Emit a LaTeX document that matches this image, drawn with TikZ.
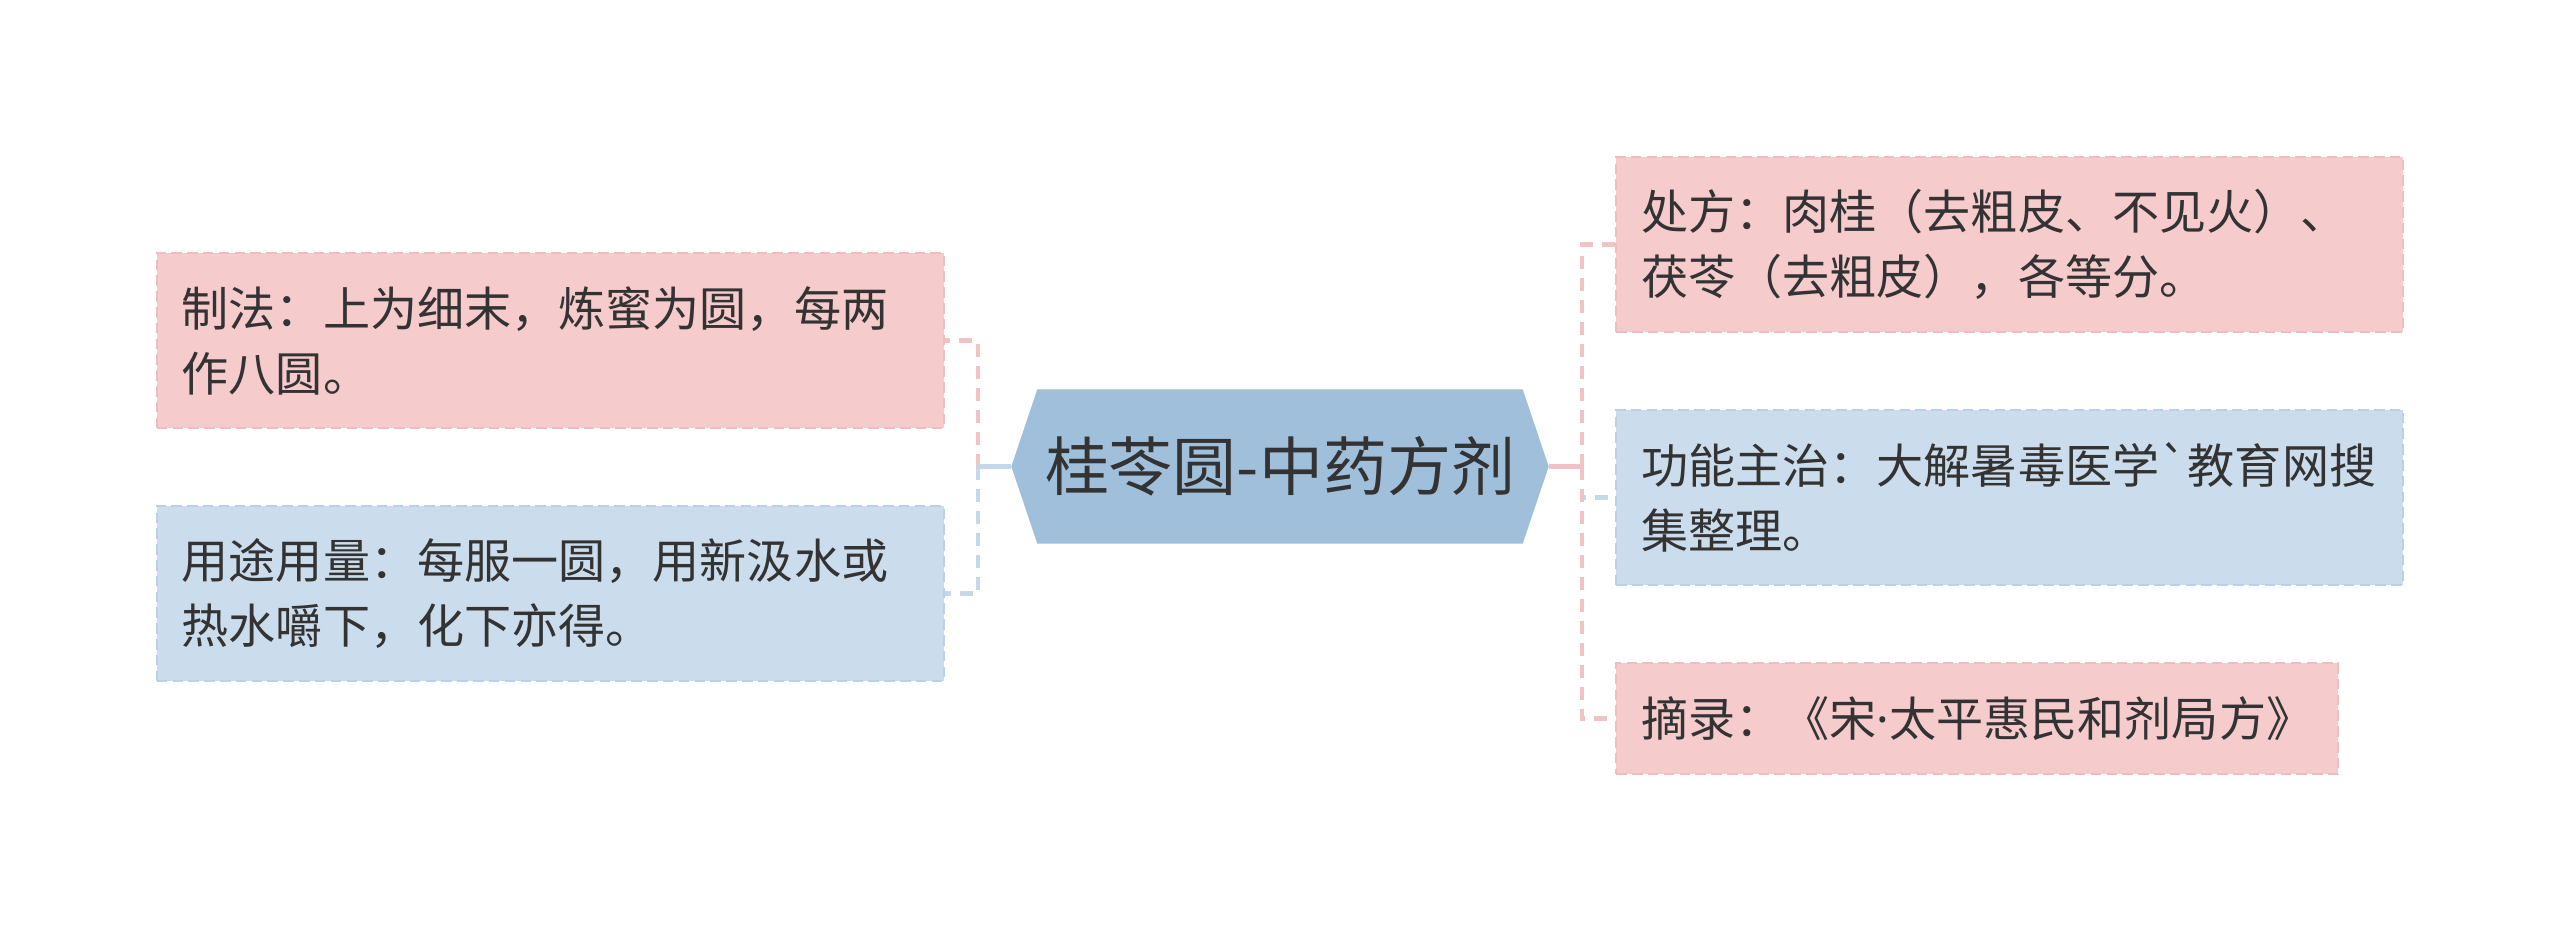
\documentclass[tikz,border=0pt]{standalone}
\usepackage{fontspec}
\newfontfamily\cjk{Noto Sans CJK SC}
\newfontfamily\latin{Noto Sans}
\usetikzlibrary{backgrounds}
\definecolor{pinkfill}{HTML}{F5CBCC}
\definecolor{pinkedge}{HTML}{EFBCBF}
\definecolor{bluefill}{HTML}{CBDCEC}
\definecolor{blueedge}{HTML}{BBD0E5}
\definecolor{rootfill}{HTML}{A0BFDB}
\definecolor{textgray}{HTML}{333333}
\definecolor{pinkline}{HTML}{F2C3C6}
\definecolor{blueline}{HTML}{C4D8EA}

\begin{document}
\begin{tikzpicture}[
    leaf/.style={draw,dash pattern=on 3pt off 1.5pt,line width=0.7pt,inner xsep=0.25cm,inner ysep=0pt,text=textgray,font=\cjk\fontsize{13.4}{18.5}\selectfont,align=left},
    pinkbox/.style={leaf,fill=pinkfill,draw=pinkedge},
    bluebox/.style={leaf,fill=bluefill,draw=blueedge},
    twoline/.style={text width=7.37cm,minimum height=1.75cm},
    pinklink/.style={draw=pinkline,line width=1.4pt},
    bluelink/.style={draw=blueline,line width=1.4pt},
    spine/.style={dash pattern=on 0.13cm off 0.09cm}]
      \useasboundingbox (0,0) rectangle (25.6,9.34);%

      \node[minimum width=5.36cm,minimum height=1.53cm,inner sep=0pt,text=textgray,font=\cjk\fontsize{18.2}{22}\selectfont] (root) at (12.80,4.675) {桂苓圆-中药方剂};%

      \node[pinkbox,twoline,anchor=east] (zhifa) at (9.45,5.935) {制法：上为细末，炼蜜为圆，每两\\作八圆。};%
      \node[bluebox,twoline,anchor=east] (yongtu) at (9.45,3.405) {用途用量：每服一圆，用新汲水或\\热水嚼下，化下亦得。};%

      \node[pinkbox,twoline,anchor=west] (chufang) at (16.15,6.895) {处方：肉桂（去粗皮、不见火）、\\茯苓（去粗皮），各等分。};%
      \node[bluebox,twoline,anchor=west] (gongneng) at (16.15,4.365) {功能主治：大解暑毒医学\symbol{96}教育网搜\\集整理。};%
      \node[pinkbox,minimum height=1.11cm,anchor=west] (zhailu) at (16.15,2.155) {摘录：《宋{\latin ·}太平惠民和剂局方》};%

      \coordinate (lj) at (9.78,4.675);%
      \coordinate (rj) at (15.82,4.675);%

      \begin{scope}[on background layer]
      \fill[rootfill] (root.west) -- ([xshift=0.26cm]root.north west) -- ([xshift=-0.26cm]root.north east) -- (root.east) -- ([xshift=-0.26cm]root.south east) -- ([xshift=0.26cm]root.south west) -- cycle;%
      \end{scope}

      \draw[pinklink,spine] (lj) |- (zhifa.east);%
      \draw[bluelink,spine] (lj) |- (yongtu.east);%
      \draw[bluelink] (root.west) -- (lj);%

      \draw[bluelink,spine] (rj) |- (gongneng.west);%
      \draw[pinklink,spine] (rj) |- (chufang.west);%
      \draw[pinklink,spine] (rj) |- (zhailu.west);%
      \draw[pinklink] (root.east) -- (rj);%
    \end{tikzpicture}
\end{document}
